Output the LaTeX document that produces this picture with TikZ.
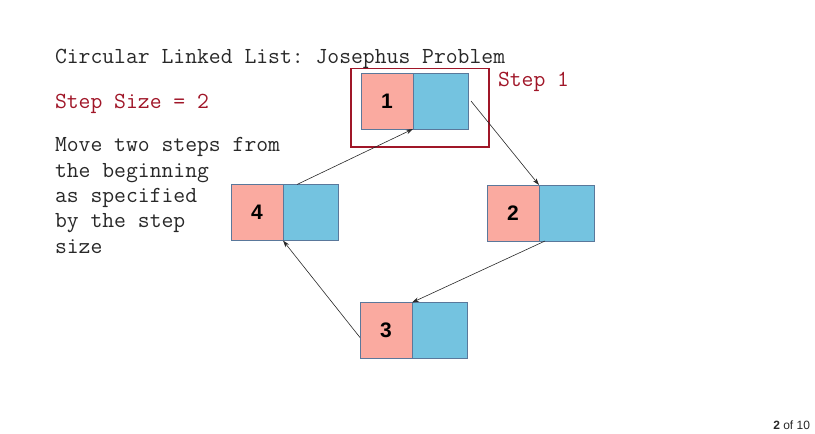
\documentclass[tikz,border=0pt]{standalone}
\usepackage{fontspec}
\newfontfamily\numfont{Liberation Sans}
\usepackage{tikz}
\usetikzlibrary{
	calc,
	arrows.meta}

\definecolor{datapink}{RGB}{250,170,160}
\definecolor{ptrblue}{RGB}{116,195,224}
\definecolor{cellline}{RGB}{90,120,155}
\definecolor{stepred}{RGB}{160,22,40}
\definecolor{textgray}{RGB}{40,40,40}

\begin{document}
\frenchspacing
\begin{tikzpicture}[x=1pt,y=-1pt,
    every node/.style={inner sep=0pt,outer sep=0pt},
    datacell/.style={draw=cellline,line width=0.8pt,fill=datapink,minimum width=52pt,minimum height=56pt,font=\numfont\bfseries\fontsize{21}{21}\selectfont},
    ptrcell/.style={draw=cellline,line width=0.8pt,fill=ptrblue,minimum width=55pt,minimum height=56pt},
    txt/.style={anchor=base west,text=textgray,font=\ttfamily\fontsize{23}{25.3}\selectfont,align=left},
    link/.style={->,draw=textgray,line width=0.6pt,>={Stealth[length=7pt,width=4.5pt]}}]
  \useasboundingbox (0,0) rectangle (815,434);

  % Texts
  \node[txt] (title) at (55,63) {Circular Linked List: Josephus Problem};
  \node[txt,text=stepred] (size) at (55,108) {Step Size = 2};
  \node[txt] (note) at (55,253) {Move two steps from\\the beginning\\as specified\\by the step\\size};
  \node[txt,text=stepred] (step) at (498,86) {Step 1};

  % List nodes
  \node[datacell] (D1) at (387,101) {1};
  \node[ptrcell,anchor=west] (P1) at (D1.east) {};
  \node[datacell] (D2) at (513,213) {2};
  \node[ptrcell,anchor=west] (P2) at (D2.east) {};
  \node[datacell] (D3) at (386,330.5) {3};
  \node[ptrcell,anchor=west] (P3) at (D3.east) {};
  \node[datacell] (D4) at (257,212.5) {4};
  \node[ptrcell,anchor=west] (P4) at (D4.east) {};

  % Current step frame
  \draw[stepred,line width=1.8pt] (351,68.5) rectangle (489,147);

  \draw[link] ([xshift=3pt]P1.east)       to (D2.north east);
  \draw[link] ([xshift=6pt]P2.south west) to (D3.north east);
  \draw[link] ([yshift=-7pt]D3.west)      to (D4.south east);
  \draw[link] ([xshift=14pt]P4.north west) to (D1.south east);

  % Page number
  \node[anchor=base east,font=\numfont\fontsize{12}{14}\selectfont,text=textgray] (page) at (810,429) {\textbf{2} of 10};
\end{tikzpicture}
\end{document}
